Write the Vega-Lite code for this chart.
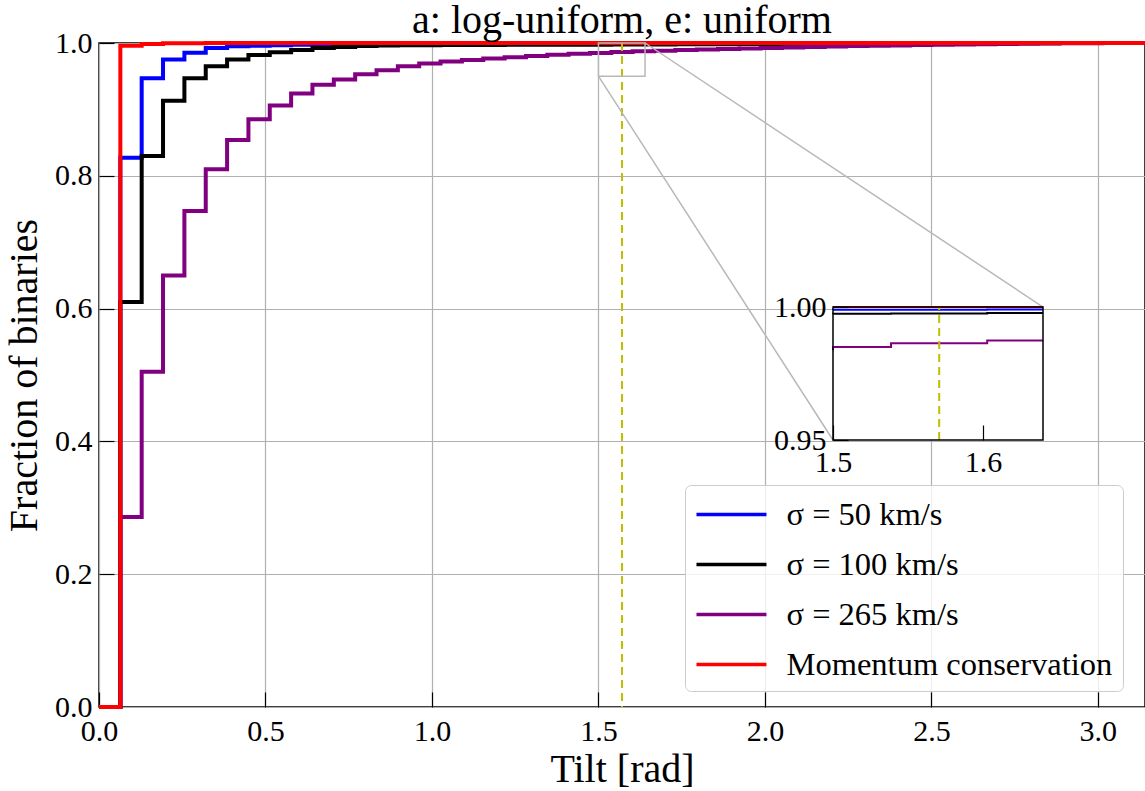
{
  "$schema": "https://vega.github.io/schema/vega-lite/v6.json",
  "width": 1046,
  "height": 664,
  "autosize": "none",
  "padding": {"left": 99, "top": 43, "right": 0, "bottom": 84},
  "background": "white",
  "title": {"text": "a: log-uniform, e: uniform", "fontSize": 40, "font": "Liberation Serif", "fontWeight": "normal", "color": "black", "offset": -13, "frame": "group"},
  "config": {
    "view": {"stroke": "black", "strokeWidth": 1.5},
    "axis": {"labelFont": "Liberation Serif", "labelFontSize": 30, "labelColor": "black", "titleFont": "Liberation Serif", "titleFontSize": 40, "titleFontWeight": "normal", "titleColor": "black", "domain": false, "tickColor": "black", "tickWidth": 1.2, "tickSize": -15, "labelPadding": 22, "labelFlush": false, "labelOverlap": false, "labelBound": false, "gridColor": "#b0b0b0", "gridWidth": 1.2, "gridOpacity": 1}
  },
  "datasets": {
    "cdf": [
      {"tilt": 0, "sigma50": 0, "sigma100": 0, "sigma265": 0, "momentum": 0},
      {"tilt": 0.0641, "sigma50": 0, "sigma100": 0, "sigma265": 0, "momentum": 0},
      {"tilt": 0.1282, "sigma50": 0.827, "sigma100": 0.61, "sigma265": 0.286, "momentum": 0.996},
      {"tilt": 0.1923, "sigma50": 0.947, "sigma100": 0.83, "sigma265": 0.505, "momentum": 0.9985},
      {"tilt": 0.2565, "sigma50": 0.975, "sigma100": 0.913, "sigma265": 0.65, "momentum": 0.9995},
      {"tilt": 0.3206, "sigma50": 0.9855, "sigma100": 0.947, "sigma265": 0.747, "momentum": 0.9998},
      {"tilt": 0.3847, "sigma50": 0.9925, "sigma100": 0.965, "sigma265": 0.81, "momentum": 1},
      {"tilt": 0.4488, "sigma50": 0.995, "sigma100": 0.975, "sigma265": 0.854, "momentum": 1},
      {"tilt": 0.5129, "sigma50": 0.996, "sigma100": 0.982, "sigma265": 0.885, "momentum": 1},
      {"tilt": 0.577, "sigma50": 0.9968, "sigma100": 0.986, "sigma265": 0.906, "momentum": 1},
      {"tilt": 0.6411, "sigma50": 0.9973, "sigma100": 0.9895, "sigma265": 0.924, "momentum": 1},
      {"tilt": 0.7053, "sigma50": 0.9977, "sigma100": 0.9925, "sigma265": 0.937, "momentum": 1},
      {"tilt": 0.7694, "sigma50": 0.998, "sigma100": 0.994, "sigma265": 0.945, "momentum": 1},
      {"tilt": 0.8335, "sigma50": 0.9982, "sigma100": 0.9955, "sigma265": 0.953, "momentum": 1},
      {"tilt": 0.8976, "sigma50": 0.9984, "sigma100": 0.9962, "sigma265": 0.959, "momentum": 1},
      {"tilt": 0.9617, "sigma50": 0.9985, "sigma100": 0.9965, "sigma265": 0.965, "momentum": 1},
      {"tilt": 1.0258, "sigma50": 0.9986, "sigma100": 0.9967, "sigma265": 0.969, "momentum": 1},
      {"tilt": 1.0899, "sigma50": 0.9987, "sigma100": 0.9969, "sigma265": 0.972, "momentum": 1},
      {"tilt": 1.1541, "sigma50": 0.9987, "sigma100": 0.997, "sigma265": 0.9745, "momentum": 1},
      {"tilt": 1.2182, "sigma50": 0.9988, "sigma100": 0.9971, "sigma265": 0.9765, "momentum": 1},
      {"tilt": 1.2823, "sigma50": 0.9988, "sigma100": 0.9972, "sigma265": 0.9785, "momentum": 1},
      {"tilt": 1.3464, "sigma50": 0.9989, "sigma100": 0.9973, "sigma265": 0.9805, "momentum": 1},
      {"tilt": 1.4105, "sigma50": 0.9989, "sigma100": 0.9974, "sigma265": 0.9822, "momentum": 1},
      {"tilt": 1.4746, "sigma50": 0.9989, "sigma100": 0.9974, "sigma265": 0.9837, "momentum": 1},
      {"tilt": 1.5387, "sigma50": 0.999, "sigma100": 0.9975, "sigma265": 0.985, "momentum": 1},
      {"tilt": 1.6028, "sigma50": 0.999, "sigma100": 0.9976, "sigma265": 0.9864, "momentum": 1},
      {"tilt": 1.667, "sigma50": 0.9991, "sigma100": 0.9977, "sigma265": 0.9874, "momentum": 1},
      {"tilt": 1.7311, "sigma50": 0.9992, "sigma100": 0.9979, "sigma265": 0.9884, "momentum": 1},
      {"tilt": 1.7952, "sigma50": 0.9993, "sigma100": 0.998, "sigma265": 0.9893, "momentum": 1},
      {"tilt": 1.8593, "sigma50": 0.9993, "sigma100": 0.9982, "sigma265": 0.9902, "momentum": 1},
      {"tilt": 1.9234, "sigma50": 0.9994, "sigma100": 0.9983, "sigma265": 0.991, "momentum": 1},
      {"tilt": 1.9875, "sigma50": 0.9995, "sigma100": 0.9984, "sigma265": 0.9918, "momentum": 1},
      {"tilt": 2.0517, "sigma50": 0.9995, "sigma100": 0.9986, "sigma265": 0.9926, "momentum": 1},
      {"tilt": 2.1158, "sigma50": 0.9996, "sigma100": 0.9987, "sigma265": 0.9933, "momentum": 1},
      {"tilt": 2.1799, "sigma50": 0.9996, "sigma100": 0.9988, "sigma265": 0.994, "momentum": 1},
      {"tilt": 2.244, "sigma50": 0.9997, "sigma100": 0.9989, "sigma265": 0.9947, "momentum": 1},
      {"tilt": 2.3081, "sigma50": 0.9997, "sigma100": 0.999, "sigma265": 0.9953, "momentum": 1},
      {"tilt": 2.3722, "sigma50": 0.9998, "sigma100": 0.9991, "sigma265": 0.9959, "momentum": 1},
      {"tilt": 2.4363, "sigma50": 0.9998, "sigma100": 0.9992, "sigma265": 0.9964, "momentum": 1},
      {"tilt": 2.5005, "sigma50": 0.9998, "sigma100": 0.9993, "sigma265": 0.9969, "momentum": 1},
      {"tilt": 2.5646, "sigma50": 0.9999, "sigma100": 0.9994, "sigma265": 0.9974, "momentum": 1},
      {"tilt": 2.6287, "sigma50": 0.9999, "sigma100": 0.9995, "sigma265": 0.9978, "momentum": 1},
      {"tilt": 2.6928, "sigma50": 0.9999, "sigma100": 0.9996, "sigma265": 0.9982, "momentum": 1},
      {"tilt": 2.7569, "sigma50": 0.9999, "sigma100": 0.9997, "sigma265": 0.9986, "momentum": 1},
      {"tilt": 2.821, "sigma50": 1, "sigma100": 0.9998, "sigma265": 0.9989, "momentum": 1},
      {"tilt": 2.8851, "sigma50": 1, "sigma100": 0.9998, "sigma265": 0.9992, "momentum": 1},
      {"tilt": 2.9493, "sigma50": 1, "sigma100": 0.9999, "sigma265": 0.9995, "momentum": 1},
      {"tilt": 3.0134, "sigma50": 1, "sigma100": 0.9999, "sigma265": 0.9997, "momentum": 1},
      {"tilt": 3.0775, "sigma50": 1, "sigma100": 1, "sigma265": 0.9999, "momentum": 1},
      {"tilt": 3.1416, "sigma50": 1, "sigma100": 1, "sigma265": 1, "momentum": 1}
    ]
  },
  "layer": [
    {
      "layer": [
        {
          "data": {"name": "cdf"},
          "transform": [{"fold": ["sigma50", "sigma100", "sigma265", "momentum"], "as": ["model", "fraction"]}],
          "mark": {"type": "line", "interpolate": "step-before", "strokeWidth": 4},
          "encoding": {
            "x": {"field": "tilt", "type": "quantitative", "title": "Tilt [rad]", "scale": {"domain": [0, 3.14159], "nice": false, "zero": false}, "axis": {"values": [0, 0.5, 1, 1.5, 2, 2.5, 3], "format": ".1f", "grid": true, "labelPadding": 24, "titlePadding": 3}},
            "y": {"field": "fraction", "type": "quantitative", "title": "Fraction of binaries", "scale": {"domain": [0, 1], "nice": false}, "axis": {"values": [0, 0.2, 0.4, 0.6, 0.8, 1], "format": ".1f", "grid": true, "titlePadding": 10}},
            "color": {
              "field": "model", "type": "nominal",
              "scale": {"domain": ["sigma50", "sigma100", "sigma265", "momentum"], "range": ["#0000ff", "#000000", "#800080", "#ff0000"]},
              "legend": {"orient": "none", "legendX": 586, "legendY": 442, "title": null, "symbolType": "M-1.03,0H2.97", "symbolSize": 1225, "symbolStrokeWidth": 3.5, "labelFont": "Liberation Serif", "labelFontSize": 32.5, "labelColor": "black", "labelOffset": 52.5, "labelLimit": 0, "rowPadding": 14, "padding": 10, "fillColor": "rgba(255,255,255,0.8)", "strokeColor": "#cccccc", "cornerRadius": 6,
                "labelExpr": "datum.label == 'sigma50' ? 'σ = 50 km/s' : datum.label == 'sigma100' ? 'σ = 100 km/s' : datum.label == 'sigma265' ? 'σ = 265 km/s' : 'Momentum conservation'"}
            }
          }
        },
        {
          "data": {"values": [{"tilt": 1.5708}]},
          "mark": {"type": "rule", "color": "#bfbf00", "strokeWidth": 2, "strokeDash": [8, 5]},
          "encoding": {"x": {"field": "tilt", "type": "quantitative", "title": "Tilt [rad]"}}
        },
        {
          "data": {"values": [{"x1": 1.5, "x2": 1.64, "y1": 0.95, "y2": 1.0}]},
          "mark": {"type": "rect", "fill": null, "fillOpacity": 0, "stroke": "#b8b8b8", "strokeWidth": 1.5},
          "encoding": {"x": {"field": "x1", "type": "quantitative", "title": "Tilt [rad]"}, "x2": {"field": "x2"}, "y": {"field": "y1", "type": "quantitative", "title": "Fraction of binaries"}, "y2": {"field": "y2"}}
        },
        {
          "data": {"values": [{"x1": 1.5, "y1": 0.95, "x2": 2.2045, "y2": 0.4021}, {"x1": 1.64, "y1": 1.0, "x2": 2.8353, "y2": 0.6024}]},
          "mark": {"type": "rule", "color": "#b8b8b8", "strokeWidth": 1.5},
          "encoding": {"x": {"field": "x1", "type": "quantitative", "title": "Tilt [rad]"}, "x2": {"field": "x2"}, "y": {"field": "y1", "type": "quantitative", "title": "Fraction of binaries"}, "y2": {"field": "y2"}}
        }
      ]
    },
    {
      "layer": [
        {
          "data": {"values": [{"x1": 1.5, "x2": 1.64, "y1": 0.95, "y2": 1.0}]},
          "mark": {"type": "rect", "fill": "white", "strokeWidth": 0},
          "encoding": {
            "x": {"field": "x1", "type": "quantitative", "title": null, "scale": {"domain": [1.5, 1.64], "range": [734, 944], "nice": false, "zero": false, "clamp": true}, "axis": {"orient": "bottom", "offset": -267, "values": [1.5, 1.6], "format": ".1f", "grid": false, "zindex": 2, "tickSize": -15, "labelPadding": 22}},
            "x2": {"field": "x2"},
            "y": {"field": "y1", "type": "quantitative", "title": null, "scale": {"domain": [0.95, 1.0], "range": [397, 264], "nice": false, "zero": false, "clamp": true}, "axis": {"orient": "left", "offset": -734, "values": [0.95, 1.0], "format": ".2f", "grid": false, "zindex": 2, "tickSize": -15}},
            "y2": {"field": "y2"}
          }
        },
        {
          "data": {"name": "cdf"},
          "transform": [{"fold": ["sigma50", "sigma100", "sigma265", "momentum"], "as": ["model", "fraction"]}, {"filter": "datum.tilt >= 1.47 && datum.tilt <= 1.67"}],
          "mark": {"type": "line", "interpolate": "step-before", "strokeWidth": 2},
          "encoding": {
            "x": {"field": "tilt", "type": "quantitative", "title": null},
            "y": {"field": "fraction", "type": "quantitative", "title": null},
            "color": {"field": "model", "type": "nominal"}
          }
        },
        {
          "data": {"values": [{"tilt": 1.5708, "lo": 0.95, "hi": 1.0}]},
          "mark": {"type": "rule", "color": "#bfbf00", "strokeWidth": 2, "strokeDash": [8, 5]},
          "encoding": {"x": {"field": "tilt", "type": "quantitative", "title": null}, "y": {"field": "lo", "type": "quantitative", "title": null}, "y2": {"field": "hi"}}
        },
        {
          "data": {"values": [{"x1": 1.5, "x2": 1.64, "y1": 0.95, "y2": 1.0}]},
          "mark": {"type": "rect", "fill": null, "fillOpacity": 0, "stroke": "black", "strokeWidth": 1.5},
          "encoding": {"x": {"field": "x1", "type": "quantitative", "title": null}, "x2": {"field": "x2"}, "y": {"field": "y1", "type": "quantitative", "title": null}, "y2": {"field": "y2"}}
        }
      ]
    }
  ],
  "resolve": {"scale": {"x": "independent", "y": "independent"}}
}
